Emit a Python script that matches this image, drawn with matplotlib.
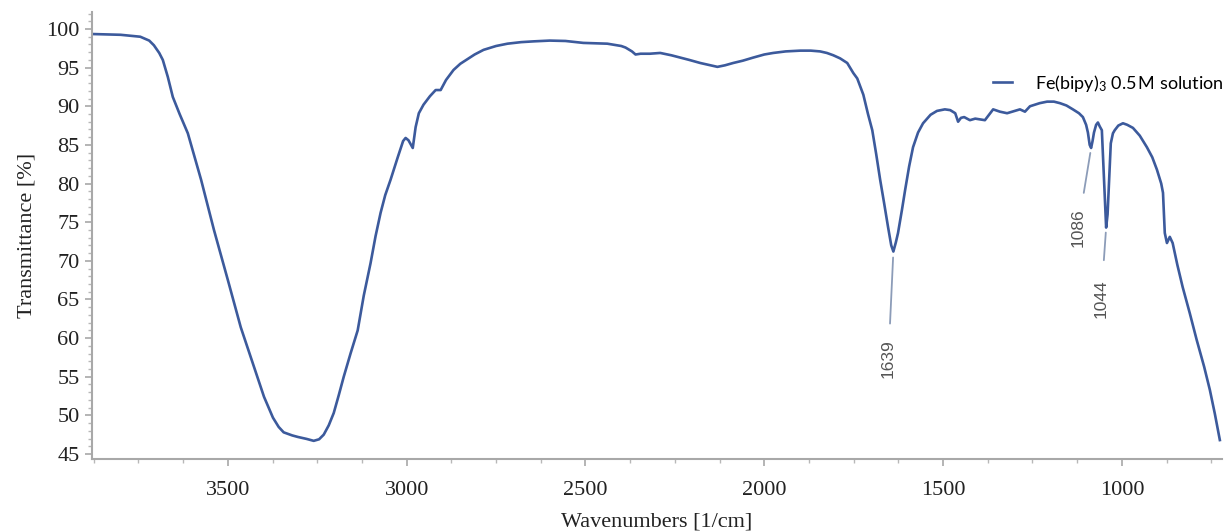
import matplotlib
matplotlib.use("Agg")
import matplotlib.pyplot as plt
from matplotlib.ticker import MultipleLocator

plt.rcParams["mathtext.fontset"] = "custom"
plt.rcParams["mathtext.rm"] = "Lato"
plt.rcParams["mathtext.default"] = "regular"

wavenumber = [
    3880, 3800, 3745, 3720, 3707, 3692, 3682, 3668, 3654, 3635, 3612, 3575, 3539, 3500,
    3464, 3427, 3399, 3374, 3358, 3344, 3320, 3304, 3280, 3260, 3245, 3232, 3218, 3204,
    3190, 3176, 3157, 3137, 3120, 3101, 3087, 3073, 3060, 3045, 3025, 3010, 3003, 2995,
    2983, 2975, 2966, 2953, 2935, 2919, 2905, 2890, 2869, 2850, 2830, 2810, 2785, 2750,
    2718, 2680, 2645, 2600, 2556, 2506, 2439, 2400, 2388, 2370, 2360, 2346, 2320, 2291,
    2260, 2235, 2210, 2179, 2150, 2131, 2110, 2087, 2060, 2031, 2000, 1975, 1940, 1899,
    1870, 1844, 1825, 1807, 1788, 1768, 1751, 1740, 1723, 1710, 1698, 1687, 1676, 1665,
    1654, 1645, 1639, 1632, 1626, 1615, 1606, 1595, 1584, 1570, 1556, 1535, 1517, 1495,
    1480, 1466, 1458, 1450, 1441, 1425, 1410, 1397, 1383, 1370, 1360, 1341, 1321, 1300,
    1285, 1271, 1257, 1230, 1209, 1190, 1173, 1155, 1137, 1120, 1109, 1100, 1095, 1090,
    1086, 1082, 1078, 1072, 1067, 1062, 1056, 1052, 1048, 1044, 1040, 1036, 1031, 1025,
    1020, 1010, 997, 985, 969, 950, 930, 915, 902, 890, 885, 880, 874, 866, 858, 845,
    830, 810, 791, 770, 754, 740, 726,
]
transmittance = [
    99.35, 99.25, 99.0, 98.5, 97.9, 96.9, 96.0, 93.8, 91.2, 89.0, 86.5, 80.5, 74.0, 67.5,
    61.4, 56.3, 52.4, 49.7, 48.5, 47.8, 47.4, 47.2, 46.95, 46.7, 46.9, 47.5, 48.7, 50.3,
    52.6, 55.0, 58.0, 61.0, 65.5, 69.7, 73.2, 76.2, 78.5, 80.5, 83.4, 85.5, 85.9, 85.6,
    84.6, 87.3, 89.1, 90.2, 91.3, 92.1, 92.1, 93.4, 94.7, 95.5, 96.1, 96.7, 97.3, 97.8,
    98.1, 98.3, 98.4, 98.5, 98.45, 98.2, 98.1, 97.8, 97.6, 97.1, 96.7, 96.8, 96.8, 96.9,
    96.6, 96.3, 96.0, 95.6, 95.3, 95.1, 95.3, 95.6, 95.9, 96.3, 96.7, 96.9, 97.1, 97.2,
    97.2, 97.1, 96.9, 96.6, 96.2, 95.6, 94.3, 93.6, 91.5, 89.0, 86.9, 83.8, 80.5, 77.5,
    74.4, 72.0, 71.2, 72.4, 73.6, 76.6, 79.2, 82.2, 84.7, 86.6, 87.8, 88.9, 89.4, 89.6,
    89.5, 89.1, 88.0, 88.5, 88.6, 88.2, 88.4, 88.3, 88.2, 89.0, 89.6, 89.3, 89.1, 89.4,
    89.6, 89.3, 90.0, 90.4, 90.6, 90.6, 90.4, 90.1, 89.6, 89.1, 88.6, 87.6, 86.6, 85.0,
    84.6, 85.5, 86.6, 87.6, 87.9, 87.4, 86.9, 82.8, 78.5, 74.3, 76.0, 80.1, 85.2, 86.5,
    86.9, 87.5, 87.8, 87.6, 87.2, 86.2, 84.7, 83.4, 81.8, 80.0, 78.8, 73.6, 72.3, 73.1,
    72.3, 69.5, 66.6, 63.2, 59.8, 56.3, 53.3, 50.2, 46.8,
]

peak_labels = ["1639", "1086", "1044"]
peak_wn = [1639, 1086, 1044]
peak_T = [71.2, 84.6, 74.3]

series_label = "Fe(bipy)$_3$ 0.5\u2009M solution"
x_label = "Wavenumbers [1/cm]"
y_label = "Transmittance [%]"
x_ticks = [3500, 3000, 2500, 2000, 1500, 1000]
y_ticks = [45, 50, 55, 60, 65, 70, 75, 80, 85, 90, 95, 100]

fig = plt.figure(figsize=(12.28, 5.32), dpi=100)
ax = fig.add_axes([92 / 1228, 1 - 459 / 532, (1222 - 92) / 1228, (459 - 12) / 532])

line_color = "#3c5a9c"
ax.plot(wavenumber, transmittance, color=line_color, lw=1.9, label=series_label,
        solid_joinstyle="round")

ax.set_xlim(3880, 720)
ax.set_ylim(44.35, 102.2)
ax.set_xticks(x_ticks)
ax.set_yticks(y_ticks)
ax.xaxis.set_minor_locator(MultipleLocator(125))
ax.yaxis.set_minor_locator(MultipleLocator(1))

for s in ["top", "right"]:
    ax.spines[s].set_visible(False)
for s in ["left", "bottom"]:
    ax.spines[s].set_color("#a8a8a8")
    ax.spines[s].set_linewidth(1.5)

serif = ["Liberation Serif", "DejaVu Serif"]
ax.tick_params(axis="both", which="major", direction="out", length=5, width=1.2,
               color="#a8a8a8", labelcolor="#222222", labelsize=16, pad=4)
ax.tick_params(axis="both", which="minor", direction="out", length=3, width=1.0,
               color="#b8b8b8")
ax.tick_params(axis="x", which="major", pad=11)
for lab in ax.get_xticklabels() + ax.get_yticklabels():
    lab.set_fontfamily(serif)

ax.set_xlabel(x_label, fontsize=16, family=serif, color="#222222", labelpad=9)
ax.set_ylabel(y_label, fontsize=16, family=serif, color="#222222", labelpad=7)

# peak annotations: (dx pixels, dy pixels to top of text, shrinkA, shrinkB)
ann_layout = [(-5, -88, 9.5, 4.3), (-13, -60, 9.0, 3.6), (-5, -52, 12.0, 3.6)]
for lab, wn, t, (dx, dy, sa, sb) in zip(peak_labels, peak_wn, peak_T, ann_layout):
    ax.annotate(lab, xy=(wn, t), xytext=(dx, dy), textcoords="offset pixels",
                rotation=90, ha="center", va="top", fontsize=12.5,
                family=["Liberation Sans", "DejaVu Sans"], color="#555555",
                arrowprops=dict(arrowstyle="-", color="#8c9cb8", lw=1.3,
                                shrinkA=sa, shrinkB=sb))

leg = fig.legend(loc="center left", bbox_to_anchor=(993 / 1228, 1 - 83 / 532),
                 frameon=False, borderpad=0, borderaxespad=0, handlelength=1.05,
                 handletextpad=1.27,
                 prop={"family": ["Lato", "DejaVu Sans"], "size": 13})

fig.savefig("out.png", dpi=100)
